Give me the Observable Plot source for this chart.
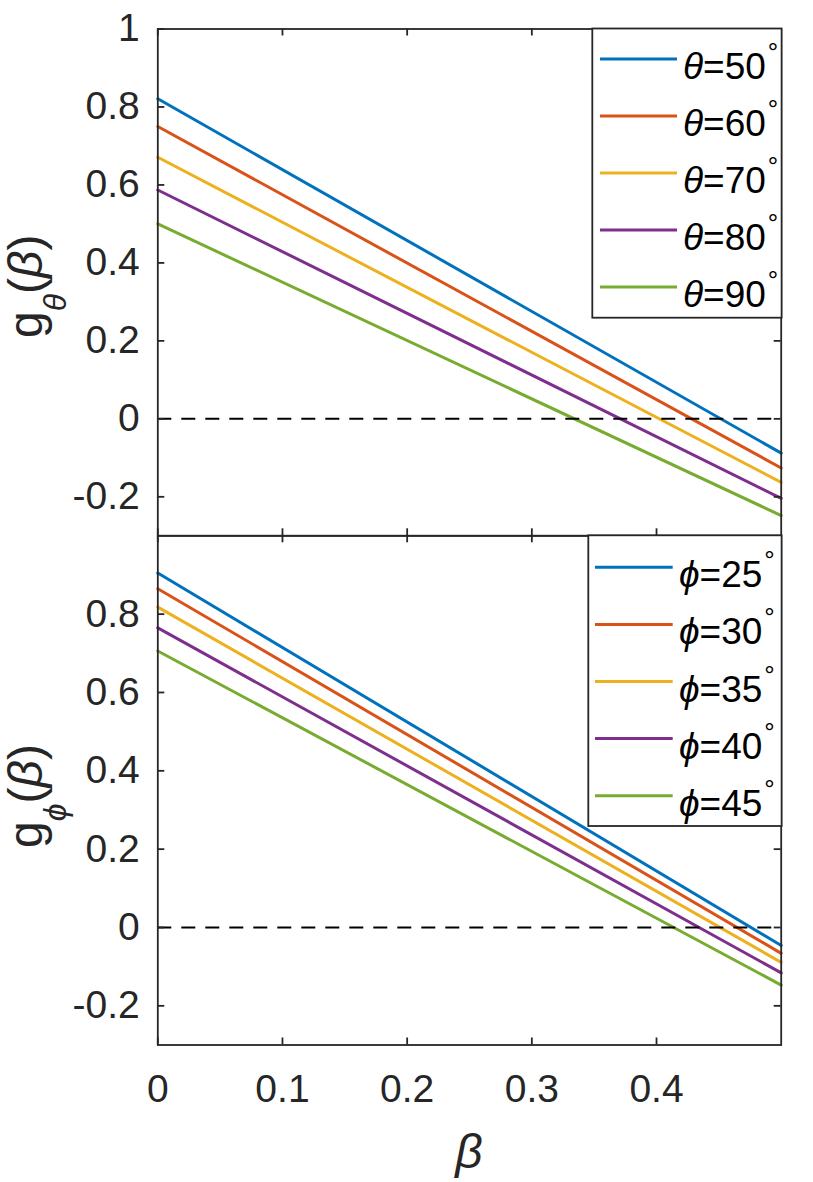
<!DOCTYPE html>
<html><head><meta charset="utf-8">
<script src="https://cdn.jsdelivr.net/npm/d3@7"></script>
<script src="https://cdn.jsdelivr.net/npm/@observablehq/plot@0.6"></script>
<style>
html,body{margin:0;padding:0;background:#fff;}
#chart{position:relative;width:813px;height:1182px;overflow:hidden;font-family:"Liberation Sans",Arial,Helvetica,sans-serif;}
#chart svg{position:absolute;left:0;}
</style></head><body><div id="chart"></div>
<script>
// ---- data ----
const betaEnds = [0, 0.5];
const xTicks = [0, 0.1, 0.2, 0.3, 0.4];
const yTicksTop = [1, 0.8, 0.6, 0.4, 0.2, 0, -0.2];
const yTicksBottom = [0.8, 0.6, 0.4, 0.2, 0, -0.2];
const yDomain = [-0.3, 1];
const xDomain = [0, 0.5];

const thetaDeg = ["50", "60", "70", "80", "90"];
const gThetaAt0 = [0.821, 0.750, 0.671, 0.587, 0.500];
const gThetaAtEnd = [-0.088, -0.126, -0.163, -0.204, -0.248];

const phiDeg = ["25", "30", "35", "40", "45"];
const gPhiAt0 = [0.905, 0.865, 0.818, 0.765, 0.706];
const gPhiAtEnd = [-0.046, -0.066, -0.089, -0.116, -0.147];

const seriesColors = ["#0072BD", "#D95319", "#EDB120", "#7E2F8E", "#77AC30"];

// ---- helpers ----
const axisColor = "#262626";
const fmt = d => String(d);
const W = 813, ML = 157.3, MR = 32.3, TICK = 7;

function rowsFor(labels, a, b) {
  const rows = [];
  labels.forEach((s, i) => {
    rows.push({series: s, beta: betaEnds[0], g: a[i]});
    rows.push({series: s, beta: betaEnds[1], g: b[i]});
  });
  return rows;
}

// inward-pointing tick marks on all four sides (MATLAB box style)
function inwardTicks(yTicks, innerH) {
  const o = {stroke: axisColor, strokeWidth: 1.8};
  const ky = (yDomain[1] - yDomain[0]) / innerH * TICK;
  const kx = (xDomain[1] - xDomain[0]) / (W - ML - MR) * TICK;
  return [
    Plot.ruleX(xTicks, {...o, x: d => d, y1: yDomain[0], y2: yDomain[0] + ky}),
    Plot.ruleX(xTicks, {...o, x: d => d, y1: yDomain[1] - ky, y2: yDomain[1]}),
    Plot.ruleY(yTicks, {...o, y: d => d, x1: xDomain[0], x2: xDomain[0] + kx}),
    Plot.ruleY(yTicks, {...o, y: d => d, x1: xDomain[1] - kx, x2: xDomain[1]})
  ];
}

function panel({labels, a, b, yTicks, height, marginTop, marginBottom, showX}) {
  return Plot.plot({
    width: W, height, marginLeft: ML, marginRight: MR, marginTop, marginBottom,
    style: {background: "transparent", fontFamily: '"Liberation Sans", Arial, sans-serif', overflow: "visible"},
    x: {domain: xDomain, axis: null},
    y: {domain: yDomain, axis: null},
    color: {domain: labels, range: seriesColors},
    marks: [
      Plot.line(rowsFor(labels, a, b), {x: "beta", y: "g", z: "series", stroke: "series", strokeWidth: 3}),
      Plot.ruleY([0], {stroke: "#000", strokeWidth: 2, strokeDasharray: "14,10"}),
      ...inwardTicks(yTicks, height - marginTop - marginBottom),
      Plot.axisY(yTicks, {tickSize: 0, tickPadding: 18, fontSize: 39, tickFormat: fmt, fill: axisColor, label: null}),
      showX ? Plot.axisX(xTicks, {tickSize: 0, tickPadding: 29, fontSize: 39, tickFormat: fmt, fill: axisColor, label: null}) : null,
      Plot.frame({stroke: axisColor, strokeWidth: 1.8})
    ]
  });
}

const chartDiv = document.getElementById("chart");

const topPanel = panel({labels: thetaDeg, a: gThetaAt0, b: gThetaAtEnd, yTicks: yTicksTop,
  height: 536, marginTop: 28.5, marginBottom: 0.7, showX: false});
topPanel.style.top = "0px";
chartDiv.appendChild(topPanel);

const bottomPanel = panel({labels: phiDeg, a: gPhiAt0, b: gPhiAtEnd, yTicks: yTicksBottom,
  height: 647, marginTop: 0.3, marginBottom: 137.5, showX: true});
bottomPanel.style.top = "535px";
chartDiv.appendChild(bottomPanel);

// ---- overlay: axis labels and legends ----
const ov = d3.create("svg").attr("width", 813).attr("height", 1182)
  .attr("font-family", '"Liberation Sans", Arial, sans-serif')
  .style("top", "0px").style("pointer-events", "none");

function yLabel(x, y, sub) {
  const t = ov.append("text").attr("transform", `translate(${x},${y}) rotate(-90)`)
    .attr("font-size", 48).attr("fill", axisColor);
  t.append("tspan").text("g");
  t.append("tspan").attr("font-size", 32).attr("font-style", "italic").attr("dy", 24).text(sub);
  t.append("tspan").attr("dy", -24).text("(");
  t.append("tspan").attr("font-style", "italic").text("β");
  t.append("tspan").text(")");
}
yLabel(42, 338, "θ");
yLabel(42, 848, "ϕ");

ov.append("text").attr("x", 469).attr("y", 1168).attr("text-anchor", "middle")
  .attr("font-size", 48).attr("font-style", "italic").attr("fill", axisColor).text("β");

function legend(box, sym, labels) {
  ov.append("rect").attr("x", box.x).attr("y", box.y).attr("width", box.w).attr("height", box.h)
    .attr("fill", "#fff").attr("stroke", axisColor).attr("stroke-width", 1.8);
  labels.forEach((lab, i) => {
    const cy = box.firstY + i * box.step;
    ov.append("line").attr("x1", box.x1).attr("x2", box.x2).attr("y1", cy).attr("y2", cy)
      .attr("stroke", seriesColors[i]).attr("stroke-width", 3);
    const t = ov.append("text").attr("x", box.tx).attr("y", cy + 20).attr("font-size", 37).attr("fill", "#000");
    t.append("tspan").attr("font-style", "italic").text(sym);
    t.append("tspan").text("=" + lab);
    t.append("tspan").attr("font-size", 26).attr("dy", -18).attr("dx", 2).text("°");
  });
}
legend({x: 592.3, y: 28.5, w: 189.3, h: 289.2, firstY: 59, step: 57, x1: 600, x2: 677, tx: 683}, "θ", thetaDeg);
legend({x: 588.3, y: 535.3, w: 193.3, h: 290.7, firstY: 567.3, step: 57.1, x1: 595, x2: 672.7, tx: 679}, "ϕ", phiDeg);

chartDiv.appendChild(ov.node());
</script></body></html>
